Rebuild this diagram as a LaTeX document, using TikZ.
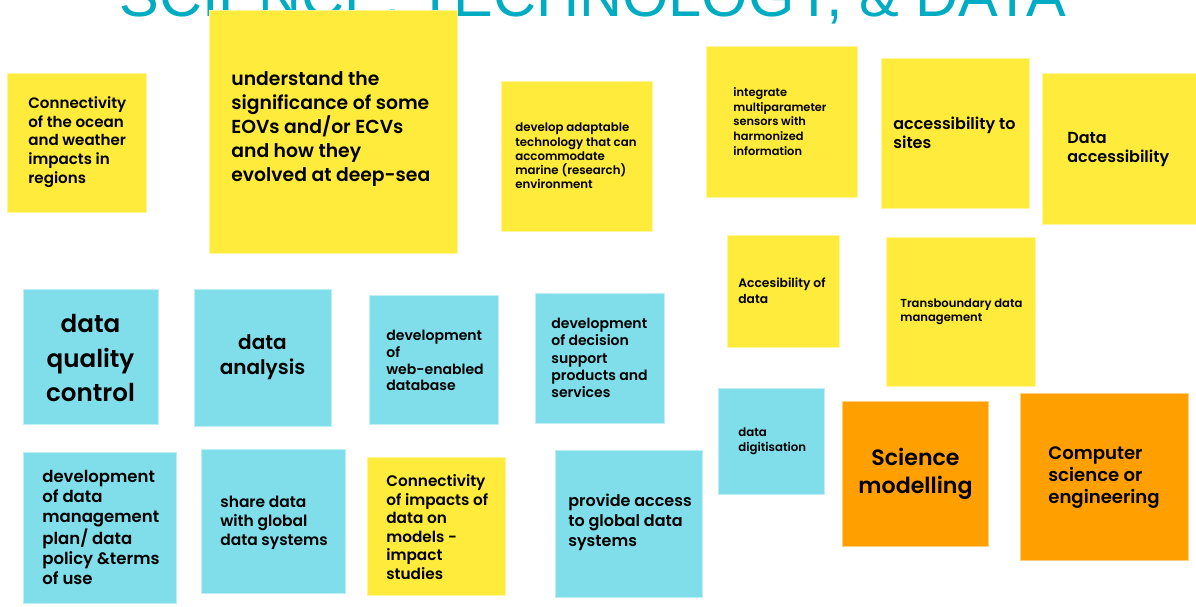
\documentclass[tikz,border=0pt]{standalone}
\usepackage{fontspec}
\usepackage{tikz}
\newfontfamily\notefont{Poppins SemiBold}
\newfontfamily\titlefont{Liberation Sans}
\definecolor{noteyellow}{HTML}{FFEB3B}
\definecolor{notecyan}{HTML}{80DEEA}
\definecolor{noteorange}{HTML}{FFA000}
\definecolor{titleteal}{HTML}{00ACC1}

\begin{document}
\begin{tikzpicture}[x=0.02cm, y=-0.02cm, yellownote/.style={fill=noteyellow, draw=noteyellow!50!white, line width=0.3pt}, cyannote/.style={fill=notecyan, draw=notecyan!50!white, line width=0.3pt}, orangenote/.style={fill=noteorange, draw=noteorange!50!white, line width=0.3pt}, notetext/.style={inner sep=0pt, align=left, anchor=west, text=black}, centretext/.style={inner sep=0pt, align=center, anchor=center, text=black}]
\clip (0,0) rectangle (1196,606);
\fill [white] (0,0) rectangle (1196,606);
\node [anchor=base west, inner sep=0pt, text=titleteal, font=\titlefont\fontsize{33.9}{36}\selectfont] (title) at (119,16) {SCIENCE, TECHNOLOGY, \& DATA};
\filldraw [yellownote] (7,73) rectangle (146,212);
\filldraw [yellownote] (209,10) rectangle (457,253);
\filldraw [yellownote] (501,81) rectangle (652,231);
\filldraw [yellownote] (706,46) rectangle (857,197);
\filldraw [yellownote] (881,58) rectangle (1029,208);
\filldraw [yellownote] (1042,73) rectangle (1200,224);
\filldraw [yellownote] (727,235) rectangle (839,347);
\filldraw [yellownote] (886,237) rectangle (1035,386);
\filldraw [yellownote] (367,457) rectangle (505,595);
\filldraw [cyannote] (23,289) rectangle (158,424);
\filldraw [cyannote] (194,289) rectangle (331,426);
\filldraw [cyannote] (369,295) rectangle (498,424);
\filldraw [cyannote] (535,293) rectangle (664,423);
\filldraw [cyannote] (23,452) rectangle (176,603);
\filldraw [cyannote] (201,449) rectangle (345,593);
\filldraw [cyannote] (555,450) rectangle (702,597);
\filldraw [cyannote] (718,388) rectangle (824,494);
\filldraw [orangenote] (842,401) rectangle (988,546);
\filldraw [orangenote] (1020,393) rectangle (1188,560);
\node [notetext, font=\notefont\fontsize{8.6}{10.6}\selectfont] (ocean) at (28,142) {Connectivity\\of the ocean\\and weather\\impacts in\\regions};
\node [notetext, font=\notefont\fontsize{10.7}{13.6}\selectfont] (eovs) at (231,129) {understand the\\significance of some\\EOVs and/or ECVs\\and how they\\evolved at deep-sea};
\node [notetext, font=\notefont\fontsize{6.7}{8.1}\selectfont] (adaptable) at (515,156) {develop adaptable\\technology that can\\accommodate\\marine (research)\\environment};
\node [notetext, font=\notefont\fontsize{6.5}{8.3}\selectfont] (sensors) at (733,121.5) {integrate\\multiparameter\\sensors with\\harmonized\\information};
\node [notetext, font=\notefont\fontsize{9.1}{10.8}\selectfont] (sites) at (893,132.5) {accessibility to\\sites};
\node [notetext, font=\notefont\fontsize{9.1}{10.8}\selectfont] (dataaccess) at (1067,149.5) {Data\\accessibility};
\node [notetext, font=\notefont\fontsize{7.0}{9.1}\selectfont] (accesib) at (738,291) {Accesibility of\\data};
\node [notetext, font=\notefont\fontsize{6.6}{7.9}\selectfont] (transbound) at (900,312) {Transboundary data\\management};
\node [notetext, font=\notefont\fontsize{8.7}{10.5}\selectfont] (impacts) at (386,527) {Connectivity\\of impacts of\\data on\\models -\\impact\\studies};
\node [centretext, font=\notefont\fontsize{14.0}{19.8}\selectfont] (quality) at (90.5,358) {data\\quality\\control};
\node [centretext, font=\notefont\fontsize{11.4}{14.2}\selectfont] (analysis) at (262.5,357.5) {data\\analysis};
\node [notetext, font=\notefont\fontsize{8.0}{9.6}\selectfont] (webdb) at (386,360.5) {development\\of\\web-enabled\\database};
\node [notetext, font=\notefont\fontsize{8.0}{9.8}\selectfont] (decision) at (551,358) {development\\of decision\\support\\products and\\services};
\node [notetext, font=\notefont\fontsize{9.4}{11.3}\selectfont] (mgmtplan) at (42,527.5) {development\\of data\\management\\plan/ data\\policy \&terms\\of use};
\node [notetext, font=\notefont\fontsize{8.8}{10.8}\selectfont] (share) at (220,522.5) {share data\\with global\\data systems};
\node [notetext, font=\notefont\fontsize{9.1}{11.3}\selectfont] (provide) at (568,522.5) {provide access\\to global data\\systems};
\node [notetext, font=\notefont\fontsize{6.7}{8.5}\selectfont] (digitise) at (738,441.5) {data\\digitisation};
\node [centretext, font=\notefont\fontsize{12.6}{15.9}\selectfont] (modelling) at (915.5,474) {Science\\modelling};
\node [notetext, font=\notefont\fontsize{10.3}{12.5}\selectfont] (computer) at (1048,478) {Computer\\science or\\engineering};
\end{tikzpicture}
\end{document}
